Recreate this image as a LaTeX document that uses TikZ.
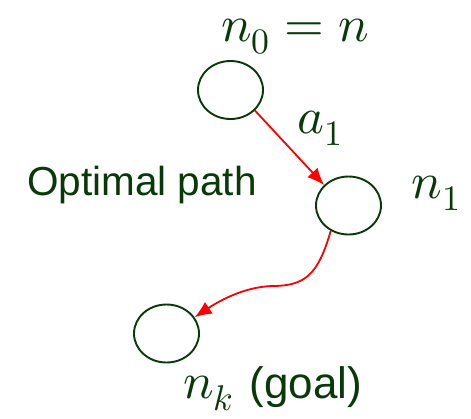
\documentclass[tikz,border=0pt]{standalone}
\usepackage{unicode-math}
\newfontfamily\arialfont{Liberation Sans}
\usetikzlibrary{shapes.geometric,arrows.meta}
\definecolor{dgreen}{RGB}{8,58,8}
\definecolor{pred}{RGB}{255,0,0}
\begin{document}
\begin{tikzpicture}[x=1pt,y=-1pt,
  state/.style={draw=dgreen,line width=1.9pt,ellipse,minimum width=65pt,minimum height=58pt,inner sep=0pt},
  lbl/.style={text=dgreen,inner sep=0pt,anchor=base,font=\fontsize{51}{60}\selectfont},
  sans/.style={text=dgreen,inner sep=0pt,anchor=base,font=\arialfont\fontsize{40.5}{48}\selectfont},
  edge/.style={draw=pred,line width=1.8pt,-{Latex[length=17pt,width=14pt]}}]
\useasboundingbox (0,0) rectangle (471,418);
\node[state] (n0) at (230.5,90) {};
\node[state] (n1) at (348.5,205.5) {};
\node[state] (nk) at (166.5,333.5) {};
\node[lbl] (l0) at (295,41) {$n_0 = n$};
\node[lbl] (la) at (320,133) {$a_1$};
\node[lbl] (l1) at (436,198) {$n_1$};
\node[lbl,anchor=base west] (lk) at (183,398) {$n_k$\kern 16pt{\arialfont\fontsize{44}{52}\selectfont(goal)}};
\node[sans] (op) at (142,195) {Optimal path};
\draw[edge] (n0.-40) -- (n1.140);
\draw[edge] (n1.-125) .. controls (318,275) and (305,286) .. (272,286) .. controls (242,287) and (216,303) .. (nk.30);
\end{tikzpicture}
\end{document}
